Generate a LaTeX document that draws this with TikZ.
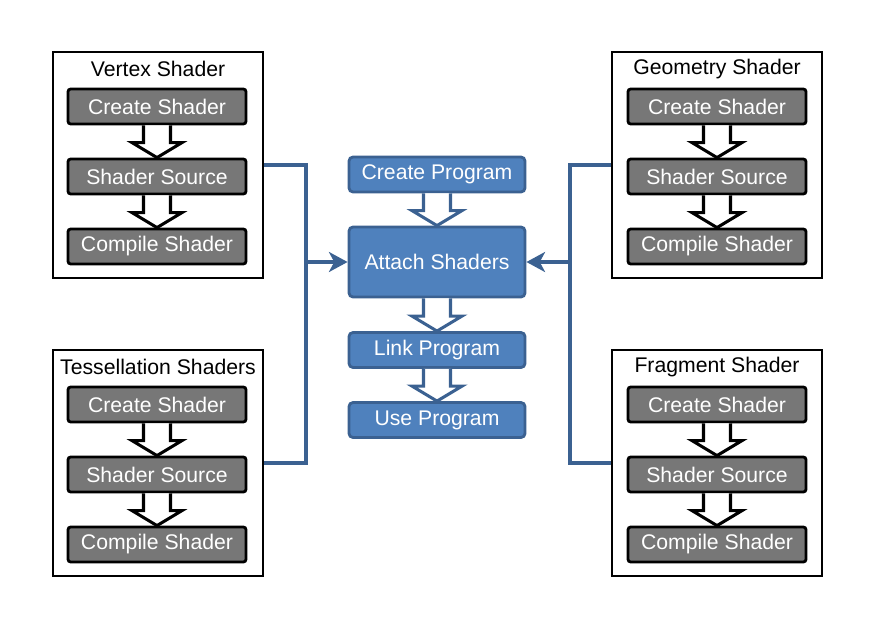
\documentclass[tikz,border=0pt]{standalone}
\usepackage{fontspec}
\setmainfont{Liberation Sans}
\usetikzlibrary{positioning, calc, arrows.meta}
\tikzset{>=Stealth}

\definecolor{stepgray}{RGB}{119,119,119}
\definecolor{progblue}{RGB}{79,129,189}
\definecolor{progedge}{RGB}{59,97,145}

% wide hollow arrow between two stacked boxes
\newcommand{\hollowarrow}[3]{%
  \filldraw[draw=#1, fill=white, line width=2.3pt, line join=miter]
    ($(#2.south)+(-13.5,0)$) -- ($(#3.north)+(-13.5,-15)$) -- ($(#3.north)+(-25,-15)$)
    -- (#3.north) -- ($(#3.north)+(25,-15)$) -- ($(#3.north)+(13.5,-15)$) -- ($(#2.south)+(13.5,0)$);
}

\begin{document}
\begin{tikzpicture}
    [
        x=0.75pt, y=-0.75pt,
        font=\fontsize{15.9}{18}\selectfont,
        group_box/.style={rectangle, draw=black, line width=2.2pt, minimum width=157.5pt, minimum height=169.5pt, inner sep=0pt},
        title_text/.style={text=black, inner sep=1pt},
        step_box/.style={rectangle, draw=black, fill=stepgray, text=white, rounded corners=2pt, line width=2.1pt, minimum width=133.5pt, minimum height=26.25pt, inner sep=0pt},
        prog_box/.style={rectangle, draw=progedge, fill=progblue, text=white, rounded corners=3pt, line width=2.1pt, minimum width=132pt, minimum height=26.25pt, inner sep=0pt},
        bus/.style={draw=progedge, line width=2.3pt},
    ]

  \useasboundingbox (0,0) rectangle (873,628);

  % vertex shader
  \node[group_box] (vs) at (158,165) {};
  \node[title_text] (vs-title) at (158,69) {Vertex Shader};
  \node[step_box] (vs-create) at (157,106.5) {Create Shader};
  \node[step_box] (vs-source) at (157,176.5) {Shader Source};
  \node[step_box] (vs-compile) at (157,246.5) {Compile Shader};

  % tessellation shaders
  \node[group_box] (ts) at (158,463) {};
  \node[title_text] (ts-title) at (158,367) {Tessellation Shaders};
  \node[step_box] (ts-create) at (157,404.5) {Create Shader};
  \node[step_box] (ts-source) at (157,474.5) {Shader Source};
  \node[step_box] (ts-compile) at (157,544.5) {Compile Shader};

  % geometry shader
  \node[group_box] (gs) at (717,165) {};
  \node[title_text] (gs-title) at (717,69) {Geometry Shader};
  \node[step_box] (gs-create) at (717,106.5) {Create Shader};
  \node[step_box] (gs-source) at (717,176.5) {Shader Source};
  \node[step_box] (gs-compile) at (717,246.5) {Compile Shader};

  % fragment shader
  \node[group_box] (fs) at (717,463) {};
  \node[title_text] (fs-title) at (717,367) {Fragment Shader};
  \node[step_box] (fs-create) at (717,404.5) {Create Shader};
  \node[step_box] (fs-source) at (717,474.5) {Shader Source};
  \node[step_box] (fs-compile) at (717,544.5) {Compile Shader};

  % program
  \node[prog_box] (create) at (437,174.5) {Create Program};
  \node[prog_box, minimum height=52.5pt] (attach) at (437,262) {Attach Shaders};
  \node[prog_box] (link) at (437,350) {Link Program};
  \node[prog_box] (use) at (437,420) {Use Program};

  \hollowarrow{black}{vs-create}{vs-source}
  \hollowarrow{black}{vs-source}{vs-compile}
  \hollowarrow{black}{ts-create}{ts-source}
  \hollowarrow{black}{ts-source}{ts-compile}
  \hollowarrow{black}{gs-create}{gs-source}
  \hollowarrow{black}{gs-source}{gs-compile}
  \hollowarrow{black}{fs-create}{fs-source}
  \hollowarrow{black}{fs-source}{fs-compile}
  \hollowarrow{progedge}{create}{attach}
  \hollowarrow{progedge}{attach}{link}
  \hollowarrow{progedge}{link}{use}

  \coordinate (lbus) at (306,262);
  \coordinate (rbus) at (570,262);

  \draw[bus] (vs.east) -| (lbus) |- (ts.east);
  \draw[bus, -{Stealth[length=14pt, width=15pt, inset=4pt]}] (lbus) -- (attach.west);
  \draw[bus] (gs.west) -| (rbus) |- (fs.west);
  \draw[bus, -{Stealth[length=14pt, width=15pt, inset=4pt]}] (rbus) -- (attach.east);
\end{tikzpicture}
\end{document}
